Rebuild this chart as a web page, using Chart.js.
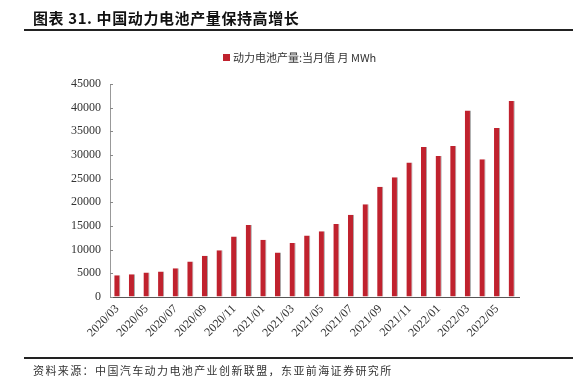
<!DOCTYPE html>
<html>
<head>
<meta charset="utf-8">
<script src="https://cdn.jsdelivr.net/npm/chart.js@4.4.1/dist/chart.umd.min.js"></script>
<style>
  html, body { margin: 0; padding: 0; background: #fff; }
  #wrap { position: relative; width: 587px; height: 384px; overflow: hidden; }
  #c { position: absolute; left: 0; top: 0; }
  #title { position: absolute; left: 33px; top: 7px; font: bold 15px "Noto Sans CJK SC", sans-serif; color: #111; white-space: nowrap; letter-spacing: 0.6px; }
  #tline { position: absolute; left: 24px; width: 549px; top: 29px; height: 2px; background: #222; }
  #bline { position: absolute; left: 24px; width: 549px; top: 357px; height: 2px; background: #222; }
  #source { position: absolute; left: 33px; top: 362px; font: 11px "Noto Sans CJK SC", sans-serif; color: #333; white-space: nowrap; letter-spacing: 1.4px; }
</style>
</head>
<body>
<div id="wrap">
  <canvas id="c" width="587" height="384"></canvas>
  <div id="title">图表 31. 中国动力电池产量保持高增长</div>
  <div id="tline"></div>
  <div id="bline"></div>
  <div id="source">资料来源：中国汽车动力电池产业创新联盟，东亚前海证券研究所</div>
</div>
<script>
const categories = [
  "2020/03","2020/04","2020/05","2020/06","2020/07","2020/08","2020/09","2020/10","2020/11","2020/12",
  "2021/01","2021/02","2021/03","2021/04","2021/05","2021/06","2021/07","2021/08","2021/09","2021/10",
  "2021/11","2021/12","2022/01","2022/02","2022/03","2022/04","2022/05","2022/06"
];
const production = [
  4600, 4800, 5200, 5400, 6100, 7500, 8700, 9900, 12800, 15200,
  12100, 9400, 11400, 13000, 13900, 15400, 17400, 19600, 23300, 25300,
  28400, 31700, 29800, 31900, 39400, 29100, 35700, 41400
];
const seriesName = "动力电池产量:当月值 月 MWh";
const yTicks = [0, 5000, 10000, 15000, 20000, 25000, 30000, 35000, 40000, 45000];

const serif = "'Liberation Serif', 'Times New Roman', serif";

const legendPlugin = {
  id: 'customLegend',
  afterDraw(chart) {
    const ctx = chart.ctx;
    const ds = chart.data.datasets[0];
    ctx.save();
    ctx.fillStyle = ds.backgroundColor;
    ctx.fillRect(223, 54, 7, 7);
    ctx.fillStyle = '#333';
    ctx.font = "11px 'Noto Sans CJK SC', sans-serif";
    ctx.textBaseline = 'middle';
    ctx.fillText(ds.label, 233, 57.5);
    ctx.restore();
  }
};

const innerTicks = {
  id: 'innerTicks',
  afterDraw(chart) {
    const ctx = chart.ctx;
    const y = chart.scales.y;
    ctx.save();
    ctx.strokeStyle = '#888';
    ctx.lineWidth = 1;
    y.ticks.forEach(t => {
      const py = Math.round(y.getPixelForValue(t.value)) + 0.5;
      ctx.beginPath();
      ctx.moveTo(y.right, py);
      ctx.lineTo(y.right + 3, py);
      ctx.stroke();
    });
    ctx.restore();
  }
};

new Chart(document.getElementById('c'), {
  type: 'bar',
  data: {
    labels: categories,
    datasets: [{
      label: seriesName,
      data: production,
      backgroundColor: '#C0222E',
      borderColor: '#a9a9a9',
      borderWidth: { left: 0, right: 1, top: 0, bottom: 0 },
      barPercentage: 0.42,
      categoryPercentage: 1.0
    }]
  },
  options: {
    responsive: false,
    animation: false,
    layout: { padding: { left: 0, right: 68, top: 84, bottom: 0 } },
    plugins: { legend: { display: false }, tooltip: { enabled: false } },
    scales: {
      x: {
        afterFit(s) { s.height = 87; },
        grid: { display: false, drawTicks: false },
        border: { display: true, color: '#555', width: 1 },
        ticks: {
          autoSkip: false,
          maxRotation: 45,
          minRotation: 45,
          padding: 5,
          color: '#333',
          font: { family: serif, size: 12 },
          callback(v, i) { return i % 2 === 0 ? categories[i] : ''; }
        }
      },
      y: {
        min: 0,
        max: 45000,
        afterFit(s) { s.width = 110; },
        afterBuildTicks(s) { s.ticks = yTicks.map(v => ({ value: v })); },
        grid: { display: true, drawOnChartArea: false, drawTicks: false },
        border: { display: true, color: '#999', width: 1 },
        ticks: {
          padding: 9,
          color: '#333',
          font: { family: serif, size: 12 },
          callback(v) { return String(v); }
        }
      }
    }
  },
  plugins: [legendPlugin, innerTicks]
});
</script>
</body>
</html>
